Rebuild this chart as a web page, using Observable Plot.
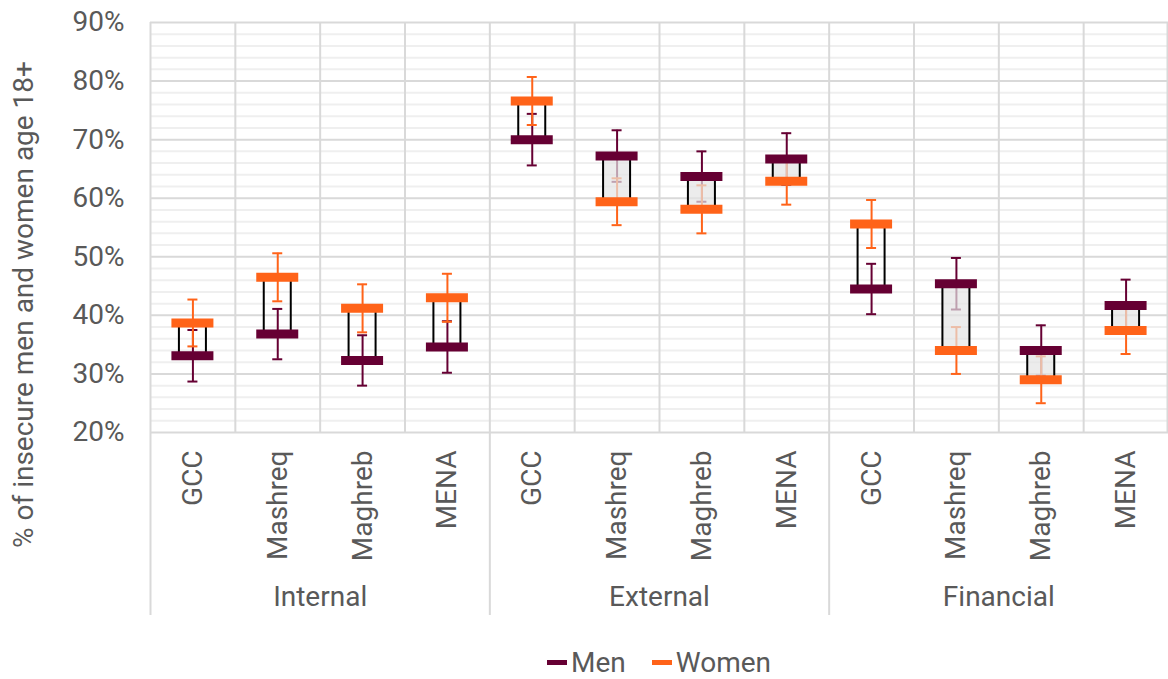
<!DOCTYPE html>
<html>
<head>
<meta charset="utf-8">
<script src="https://cdn.jsdelivr.net/npm/d3@7"></script>
<script src="https://cdn.jsdelivr.net/npm/@observablehq/plot@0.6"></script>
<style>
  html, body { margin: 0; padding: 0; background: #fff; }
  #chart svg { display: block; }
  #legend {
    display: flex; justify-content: center; align-items: center; gap: 26px;
    margin-left: 150px; height: 34px;
    font: 28px Roboto, sans-serif; color: #595959;
  }
  #legend .item { display: flex; align-items: center; }
  #legend .swatch { width: 20px; height: 5px; margin-right: 4px; }
</style>
</head>
<body>
<div id="chart"></div>
<div id="legend"></div>
<script>
// Insecurity type groups and the regions within each
const groups = ["Internal", "External", "Financial"];
const regions = ["GCC", "Mashreq", "Maghreb", "MENA"];

// Share (%) of insecure men and women, in group × region order
const men   = [33.1, 36.8, 32.3, 34.6,  70.0, 67.2, 63.7, 66.7,  44.5, 45.4, 34.0, 41.7];
const women = [38.7, 46.5, 41.2, 43.0,  76.6, 59.4, 58.1, 62.9,  55.6, 34.0, 29.0, 37.4];

// Half-width of the confidence intervals (percentage points)
const menErr   = [4.4, 4.3, 4.3, 4.4,  4.4, 4.4, 4.3, 4.4,  4.3, 4.4, 4.3, 4.4];
const womenErr = [4.0, 4.1, 4.1, 4.1,  4.1, 4.0, 4.1, 4.0,  4.1, 4.0, 4.0, 4.0];

// Y axis
const yTicks = [20, 30, 40, 50, 60, 70, 80, 90];
const yTitle = "% of insecure men and women age 18+";
const seriesNames = ["Men", "Women"];

const MEN = "#660033";
const WOMEN = "#ff6319";
const FS = 28;

const rows = groups.flatMap((g, gi) => regions.map((r, ri) => {
  const i = gi * regions.length + ri;
  return { key: g + " " + r, group: g, region: r,
           men: men[i], women: women[i], menErr: menErr[i], womenErr: womenErr[i] };
}));

const W = 1168, H = 645, ML = 150, MR = 0, MT = 22, MB = 213;
const bw = (W - ML - MR) / rows.length;
const frameH = H - MT - MB;
const minorTicks = d3.range(yTicks[0], yTicks[yTicks.length - 1], 2).filter(v => v % 10 !== 0);
const firstOfGroup = rows.filter(d => d.region === regions[0]);
const lastRow = rows[rows.length - 1];
const boxInset = (bw - 27) / 2;

const chart = Plot.plot({
  width: W, height: H,
  marginLeft: ML, marginRight: MR, marginTop: MT, marginBottom: MB,
  style: { fontFamily: "Roboto, sans-serif", fontSize: FS + "px", color: "#595959", background: "#fff", overflow: "visible" },
  x: { type: "band", domain: rows.map(d => d.key), padding: 0, round: false, axis: null },
  y: { domain: [yTicks[0], yTicks[yTicks.length - 1]], ticks: yTicks, tickFormat: d => d + "%",
       tickSize: 0, tickPadding: 26, label: null },
  marks: [
    // horizontal grid
    Plot.ruleY(minorTicks, { stroke: "#efefef", strokeWidth: 2 }),
    Plot.ruleY(yTicks, { stroke: "#d9d9d9", strokeWidth: 2 }),
    // category dividers
    Plot.ruleX(rows, { x: "key", dx: -bw / 2, stroke: "#d9d9d9", strokeWidth: 2 }),
    Plot.ruleX([lastRow], { x: "key", dx: bw / 2 - 1, stroke: "#d9d9d9", strokeWidth: 2 }),
    // group dividers continuing under the axis
    Plot.ruleX(firstOfGroup, { x: "key", dx: -bw / 2, insetTop: frameH, insetBottom: -183,
                               stroke: "#d9d9d9", strokeWidth: 2 }),
    // confidence intervals
    Plot.ruleX(rows, { x: "key", y1: d => d.men - d.menErr, y2: d => d.men + d.menErr, stroke: MEN, strokeWidth: 2 }),
    Plot.tickY(rows, { x: "key", y: d => d.men + d.menErr, stroke: MEN, strokeWidth: 2, inset: (bw - 10) / 2 }),
    Plot.tickY(rows, { x: "key", y: d => d.men - d.menErr, stroke: MEN, strokeWidth: 2, inset: (bw - 10) / 2 }),
    Plot.ruleX(rows, { x: "key", y1: d => d.women - d.womenErr, y2: d => d.women + d.womenErr, stroke: WOMEN, strokeWidth: 2 }),
    Plot.tickY(rows, { x: "key", y: d => d.women + d.womenErr, stroke: WOMEN, strokeWidth: 2, inset: (bw - 10) / 2 }),
    Plot.tickY(rows, { x: "key", y: d => d.women - d.womenErr, stroke: WOMEN, strokeWidth: 2, inset: (bw - 10) / 2 }),
    // gap boxes between men and women
    Plot.barY(rows, { filter: d => d.men > d.women, x: "key", y1: "men", y2: "women",
                      fill: "#e4e4e4", fillOpacity: 0.7, stroke: "#000", strokeWidth: 2,
                      insetLeft: boxInset, insetRight: boxInset }),
    Plot.barY(rows, { filter: d => d.men <= d.women, x: "key", y1: "men", y2: "women",
                      fill: "none", stroke: "#000", strokeWidth: 2,
                      insetLeft: boxInset, insetRight: boxInset }),
    // point estimates
    Plot.tickY(rows, { x: "key", y: "men", stroke: MEN, strokeWidth: 9, inset: (bw - 42) / 2 }),
    Plot.tickY(rows, { x: "key", y: "women", stroke: WOMEN, strokeWidth: 9, inset: (bw - 42) / 2 }),
    // region labels
    Plot.text(rows, { x: "key", text: "region", frameAnchor: "bottom", dy: 18, rotate: -90,
                      textAnchor: "end", lineAnchor: "middle", fill: "#595959", fontSize: FS }),
    // group labels
    Plot.text(groups, { x: g => g + " " + regions[1], text: d => d, dx: bw / 2, frameAnchor: "bottom", dy: 165,
                        textAnchor: "middle", lineAnchor: "middle", fill: "#595959", fontSize: FS }),
    // y axis title
    Plot.text([yTitle], { text: d => d, frameAnchor: "left", dx: -126, dy: 77, rotate: -90,
                          textAnchor: "middle", lineAnchor: "middle", fill: "#595959", fontSize: FS })
  ]
});
document.getElementById("chart").appendChild(chart);

// legend
const legend = document.getElementById("legend");
[[seriesNames[0], MEN], [seriesNames[1], WOMEN]].forEach(([name, color]) => {
  const item = document.createElement("div");
  item.className = "item";
  const sw = document.createElement("span");
  sw.className = "swatch";
  sw.style.background = color;
  const label = document.createElement("span");
  label.textContent = name;
  item.appendChild(sw);
  item.appendChild(label);
  legend.appendChild(item);
});
</script>
</body>
</html>
